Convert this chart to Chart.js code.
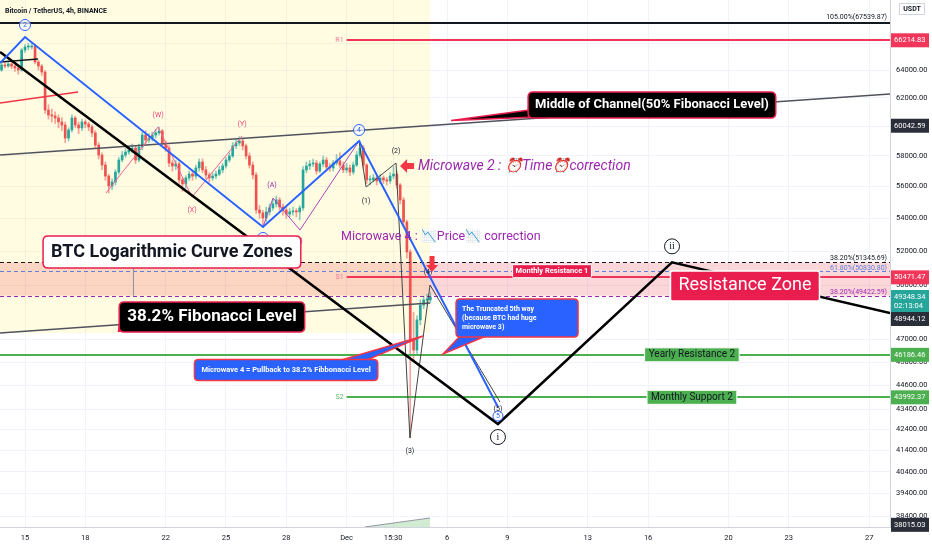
<!DOCTYPE html>
<html>
<head>
<meta charset="utf-8">
<script src="https://cdn.jsdelivr.net/npm/chart.js@4.4.0/dist/chart.umd.min.js"></script>
<style>
  html, body { margin: 0; padding: 0; background: #fff; }
</style>
</head>
<body>
<canvas id="btcChart" width="932" height="550"></canvas>
<script>
// BTC/USDT 4h candles, Nov 13 20:00 -> Dec 5 04:00 (2021)
// x values are days counted from Nov 15 00:00
const firstCandleDay = -7 / 6;
const firstOpen = 64000;
const closes = [
  64370, 64290, 64440, 64290, 64150, 64000, 65480, 65710, 65710, 65780,
  64590, 64290, 63850, 61130, 60790, 60720, 60580, 60300, 60090, 59200,
  59750, 60580, 60090, 59890, 60300, 60160, 59960, 59550, 58730, 58060,
  57400, 56680, 56040, 56300, 56940, 57730, 58060, 58260, 58400, 58530,
  57730, 58600, 59410, 59070, 59200, 59410, 59550, 59680, 58870, 58530,
  57530, 57340, 57470, 56430, 56170, 56560, 56810, 56680, 57210, 57600,
  57080, 56750, 56560, 56680, 56810, 57080, 57340, 57730, 58000, 58670,
  58870, 59000, 58670, 58000, 57400, 56750, 54520, 54340, 54030, 54400,
  54650, 54900, 55150, 54710, 54520, 54270, 54400, 54460, 54400, 54650,
  57080, 57340, 57470, 57530, 57010, 57470, 57730, 57270, 57210, 57530,
  57670, 57400, 57080, 57210, 56940, 57400, 58060, 58530, 57400, 56430,
  56430, 56560, 56360, 56560, 56430, 56360, 56680, 56810, 56100, 55150,
  53780, 51960, 46980, 46440, 48070, 48900, 49180, 49180, 49350
];
const highs = [
  64500, 64560, 64600, 64620, 64400, 64300, 65600, 65900, 66000, 65950,
  65900, 64700, 64400, 63950, 61500, 61200, 61000, 60800, 60600, 60300,
  59900, 60800, 60700, 60300, 60500, 60450, 60300, 60100, 59700, 58900,
  58200, 57600, 56800, 56500, 57100, 57900, 58300, 58500, 58600, 58800,
  58700, 58800, 59600, 59700, 59500, 59600, 59800, 59950, 59800, 59000,
  58700, 57700, 57700, 57600, 56600, 56700, 57000, 57000, 57400, 57800,
  57800, 57300, 56900, 56900, 57000, 57300, 57500, 57900, 58200, 58900,
  59100, 59300, 59200, 58800, 58200, 57600, 56900, 54800, 54500, 54700,
  54900, 55200, 55400, 55300, 54900, 54700, 54600, 54700, 54600, 54800,
  57300, 57600, 57700, 57800, 57700, 57600, 58000, 57900, 57500, 57700,
  58100, 58200, 57600, 57500, 57400, 57600, 58300, 59000, 58700, 57500,
  56700, 56800, 56700, 56800, 56700, 56600, 56900, 57300, 57000, 56200,
  55300, 53900, 52100, 48500, 48300, 49200, 49400, 49500, 49600
];
const lows = [
  63900, 64150, 64200, 64100, 63900, 63700, 63900, 65300, 65500, 65550,
  64450, 64000, 63600, 60900, 60500, 60300, 60200, 59900, 59700, 58900,
  59000, 59600, 59900, 59500, 59700, 59900, 59700, 59300, 58500, 57800,
  57100, 56400, 55600, 55800, 56100, 56800, 57600, 57900, 58100, 58200,
  57500, 57600, 58400, 58800, 58900, 59000, 59200, 59400, 58700, 58300,
  57300, 57000, 57100, 56200, 55700, 55900, 56400, 56400, 56500, 57000,
  56900, 56500, 56300, 56400, 56500, 56700, 56900, 57200, 57600, 57900,
  58500, 58700, 58400, 57800, 57200, 56500, 54300, 54000, 53500, 53800,
  54200, 54500, 54700, 54500, 54200, 54000, 54100, 54200, 54100, 53900,
  54500, 56900, 57100, 57300, 56800, 56900, 57300, 57100, 57000, 57000,
  57400, 57200, 56900, 56900, 56700, 56800, 57300, 57900, 57200, 56200,
  56100, 56300, 56100, 56200, 56200, 56100, 56200, 56500, 55900, 54900,
  53500, 51600, 42000, 45900, 46200, 47800, 48700, 48900, 49000
];
const opens = closes.map((c, i) => (i === 0 ? firstOpen : closes[i - 1]));
const candleDays = closes.map((c, i) => firstCandleDay + i / 6);

// axis ticks
const xTickDays = [0, 3, 7, 10, 13, 16, 18.31, 21, 24, 28, 31, 35, 38, 42];
const xTickLabels = ['15', '18', '22', '25', '28', 'Dec', '15:30', '6', '9', '13', '16', '20', '23', '27'];
const yTickValues = [66000, 64000, 62000, 60000, 58000, 56000, 54000, 52000, 50000,
  47000, 45800, 44600, 43400, 42400, 41400, 40400, 39400, 38400];

// levels (prices)
const fib105 = 67539.87;
const pivotR1 = 66214.83;
const fibUpper382 = 51345.69;
const fib618 = 50830.80;
const pivotS1 = 50471.47;
const fibLower382 = 49422.59;
const yearlyR2 = 46186.46;
const pivotS2 = 43992.37;
const lastPrice = 49348.34;
const pivotStartDay = 16;

// drawings, [day, price]
const impulseWave = [[-1.24, 64515], [0, 66465], [11.84, 53467], [16.62, 59001], [23.53, 43506]];
const wxyWave = [[4.03, 55590], [6.62, 59956], [8.31, 55336], [10.80, 59341]];
const abWave = [[11.84, 53467], [12.34, 55273], [13.68, 53283], [16.62, 59001]];
const microWave = [[16.62, 59001], [16.97, 55974], [18.46, 57534], [19.15, 41988], [20.15, 50031], [23.63, 43756]];
const forecastPath = [[-1.24, 65333], [23.53, 42667], [32.19, 51346], [43.04, 48450]];
const channelUpper = [[-1.24, 58064], [43.04, 62264]];
const channelLower = [[-1.24, 47357], [20.15, 49009]];
const shortBlack = [[-1.24, 64589], [0.65, 64812]];
const shortRed = [[-1.24, 61626], [2.64, 62408]];
const volumeWedge = [[16.9, 37921], [20.15, 38314], [20.15, 37921]];
const highlightEnd = 20.15;
const highlightLow = 47357;

const chartFont = "Roboto, 'Noto Sans', sans-serif";

const wickData = candleDays.map((d, i) => ({ x: d, y: [lows[i], highs[i]] }));
const bodyData = candleDays.map((d, i) => ({ x: d, y: [opens[i], closes[i]] }));
const upColor = '#26a69a', downColor = '#ef5350';
const isUp = i => closes[i] >= opens[i];

function rrect(ctx, x, y, w, h, r) {
  ctx.beginPath();
  ctx.moveTo(x + r, y);
  ctx.lineTo(x + w - r, y);
  ctx.quadraticCurveTo(x + w, y, x + w, y + r);
  ctx.lineTo(x + w, y + h - r);
  ctx.quadraticCurveTo(x + w, y + h, x + w - r, y + h);
  ctx.lineTo(x + r, y + h);
  ctx.quadraticCurveTo(x, y + h, x, y + h - r);
  ctx.lineTo(x, y + r);
  ctx.quadraticCurveTo(x, y, x + r, y);
  ctx.closePath();
}

const drawings = {
  id: 'drawings',
  beforeDatasetsDraw(chart) {
    const { ctx, chartArea: a, scales: { x, y } } = chart;
    ctx.save();
    ctx.beginPath();
    ctx.rect(a.left, a.top, a.right - a.left, a.bottom - a.top);
    ctx.clip();
    // highlighted range
    ctx.fillStyle = 'rgba(255, 235, 59, 0.15)';
    ctx.fillRect(a.left, a.top, x.getPixelForValue(highlightEnd) - a.left, y.getPixelForValue(highlightLow) - a.top);
    // logarithmic curve zone
    const zt = y.getPixelForValue(fibUpper382), zb = y.getPixelForValue(fibLower382);
    ctx.fillStyle = 'rgba(242, 54, 69, 0.2)';
    ctx.fillRect(a.left, zt, a.right - a.left, zb - zt);
    // small volume wedge at the bottom
    ctx.beginPath();
    volumeWedge.forEach(([d, p], i) => (i ? ctx.lineTo(x.getPixelForValue(d), y.getPixelForValue(p)) : ctx.moveTo(x.getPixelForValue(d), y.getPixelForValue(p))));
    ctx.closePath();
    ctx.fillStyle = 'rgba(76, 175, 80, 0.25)';
    ctx.fill();
    ctx.beginPath();
    ctx.moveTo(x.getPixelForValue(volumeWedge[0][0]), y.getPixelForValue(volumeWedge[0][1]));
    ctx.lineTo(x.getPixelForValue(volumeWedge[1][0]), y.getPixelForValue(volumeWedge[1][1]));
    ctx.strokeStyle = '#9598a1';
    ctx.lineWidth = 1;
    ctx.stroke();
    ctx.restore();
  },
  afterDatasetsDraw(chart) {
    const { ctx, chartArea: a, scales: { x, y } } = chart;
    const X = d => x.getPixelForValue(d);
    const Y = p => y.getPixelForValue(p);
    ctx.save();
    ctx.beginPath();
    ctx.rect(a.left, a.top, a.right - a.left, a.bottom - a.top);
    ctx.clip();

    function path(pts, color, width, dash) {
      ctx.beginPath();
      pts.forEach(([d, p], i) => (i ? ctx.lineTo(X(d), Y(p)) : ctx.moveTo(X(d), Y(p))));
      ctx.strokeStyle = color;
      ctx.lineWidth = width;
      ctx.setLineDash(dash || []);
      ctx.stroke();
      ctx.setLineDash([]);
    }
    function hline(price, fromDay, color, width, dash) {
      const yy = Math.round(Y(price)) + (width % 2 ? 0.5 : 0);
      ctx.beginPath();
      ctx.moveTo(fromDay == null ? a.left : X(fromDay), yy);
      ctx.lineTo(a.right, yy);
      ctx.strokeStyle = color;
      ctx.lineWidth = width;
      ctx.setLineDash(dash || []);
      ctx.stroke();
      ctx.setLineDash([]);
    }
    function text(str, d, p, color, font, align, dx, dy) {
      ctx.font = font;
      ctx.fillStyle = color;
      ctx.textAlign = align || 'center';
      ctx.textBaseline = 'middle';
      ctx.fillText(str, X(d) + (dx || 0), Y(p) + (dy || 0));
    }
    function circled(str, d, p, color, r, font, dy) {
      const cx = X(d), cy = Y(p) + (dy || 0);
      ctx.beginPath();
      ctx.arc(cx, cy, r, 0, Math.PI * 2);
      ctx.fillStyle = 'rgba(255,255,255,0.7)';
      ctx.fill();
      ctx.strokeStyle = color;
      ctx.lineWidth = 1;
      ctx.stroke();
      ctx.font = font;
      ctx.fillStyle = color;
      ctx.textAlign = 'center';
      ctx.textBaseline = 'middle';
      ctx.fillText(str, cx, cy + 0.5);
    }
    function callout(lines, at, o) {
      ctx.font = o.font;
      const w = o.width || Math.max(...lines.map(l => ctx.measureText(l).width)) + o.padX * 2;
      const h = o.height;
      const bx = X(at[0]) - w / 2, by = Y(at[1]) - h / 2;
      if (o.tip) {
        const tx = X(o.tip[0]), ty = Y(o.tip[1]);
        const b = o.base(bx, by, w, h);
        ctx.beginPath();
        ctx.moveTo(b[0][0], b[0][1]);
        ctx.lineTo(tx, ty);
        ctx.lineTo(b[1][0], b[1][1]);
        ctx.closePath();
        ctx.fillStyle = o.fill;
        ctx.fill();
        ctx.strokeStyle = o.stroke;
        ctx.lineWidth = o.lw;
        ctx.stroke();
      }
      rrect(ctx, bx, by, w, h, o.radius);
      ctx.fillStyle = o.fill;
      ctx.fill();
      if (o.stroke) {
        ctx.strokeStyle = o.stroke;
        ctx.lineWidth = o.lw;
        ctx.stroke();
      }
      ctx.fillStyle = o.color;
      ctx.font = o.font;
      ctx.textBaseline = 'middle';
      ctx.textAlign = o.align === 'left' ? 'left' : 'center';
      const lh = o.lineHeight || 0;
      lines.forEach((l, i) => {
        const ty = by + h / 2 + (i - (lines.length - 1) / 2) * lh;
        ctx.fillText(l, o.align === 'left' ? bx + o.padX : bx + w / 2, ty);
      });
    }

    // zone bounds and fib levels
    hline(fibUpper382, null, '#131722', 1, [4, 3]);
    hline(fib618, null, '#5b7fdb', 1, [4, 3]);
    hline(fibLower382, null, '#9c27b0', 1, [4, 3]);
    ctx.beginPath();
    ctx.moveTo(X(5.37) + 0.5, Y(fibUpper382));
    ctx.lineTo(X(5.37) + 0.5, Y(fibLower382));
    ctx.strokeStyle = '#8a8d96';
    ctx.lineWidth = 1;
    ctx.stroke();

    // horizontal levels
    hline(fib105, null, '#131722', 2);
    hline(pivotR1, pivotStartDay, '#f2365a', 2);
    hline(pivotS1, pivotStartDay, '#f2365a', 2);
    hline(yearlyR2, null, '#4caf50', 2);
    hline(pivotS2, pivotStartDay, '#4caf50', 2);
    text('R1', pivotStartDay, pivotR1, '#f27a92', '7px ' + chartFont, 'right', -3);
    text('S1', pivotStartDay, pivotS1, '#f27a92', '7px ' + chartFont, 'right', -3);
    text('S2', pivotStartDay, pivotS2, '#66bb6a', '7px ' + chartFont, 'right', -3);

    // channel and trend lines
    path(channelUpper, '#50535e', 1.5);
    path(channelLower, '#50535e', 1.5);
    path(shortBlack, '#131722', 1.5);
    path(shortRed, '#f23645', 1.5);

    // wave counts
    path(wxyWave, '#f06292', 1);
    path(abWave, '#ab47bc', 1);
    path(microWave, '#444', 1);
    path(forecastPath, '#000', 2.5);
    path(impulseWave, '#2962ff', 2);

    // fib labels on the right
    ctx.textBaseline = 'alphabetic';
    ctx.textAlign = 'right';
    ctx.font = '7px ' + chartFont;
    ctx.fillStyle = '#131722';
    ctx.fillText('105.00%(' + fib105.toFixed(2) + ')', a.right - 3, Y(fib105) - 4);
    ctx.fillText('38.20%(' + fibUpper382.toFixed(2) + ')', a.right - 3, Y(fibUpper382) - 2);
    ctx.fillStyle = '#5b7fdb';
    ctx.fillText('61.80%(' + fib618.toFixed(2) + ')', a.right - 3, Y(fib618) - 1);
    ctx.fillStyle = '#9c27b0';
    ctx.fillText('38.20%(' + fibLower382.toFixed(2) + ')', a.right - 3, Y(fibLower382) - 2);

    // wave labels
    circled('2', 0, 66465, '#2962ff', 5.5, '7px ' + chartFont, -12);
    circled('3', 11.84, 53467, '#2962ff', 5.5, '7px ' + chartFont, 11);
    circled('4', 16.62, 59001, '#2962ff', 5.5, '7px ' + chartFont, -11);
    circled('5', 23.53, 43506, '#2962ff', 5, '7px ' + chartFont, 9);
    text('(5)', 23.53, 43506, '#131722', '7px ' + chartFont, 'center', 0, 2);
    circled('i', 23.53, 42667, '#131722', 7.5, '10px serif', 13);
    circled('ii', 32.19, 51346, '#131722', 7.5, '10px serif', -16);
    text('(W)', 6.62, 59956, '#f0457a', '7px ' + chartFont, 'center', 0, -12);
    text('(X)', 8.31, 55336, '#f0457a', '7px ' + chartFont, 'center', 0, 13);
    text('(Y)', 10.80, 59341, '#f0457a', '7px ' + chartFont, 'center', 0, -12);
    text('(A)', 12.34, 55273, '#9c27b0', '7px ' + chartFont, 'center', -1, -13);
    text('(B)', 13.68, 53283, '#9c27b0', '7px ' + chartFont, 'center', -2, 11);
    text('(1)', 16.97, 55974, '#131722', '7px ' + chartFont, 'center', 0, 14);
    text('(2)', 18.46, 57534, '#131722', '7px ' + chartFont, 'center', 0, -12);
    text('(3)', 19.15, 41988, '#131722', '7px ' + chartFont, 'center', 0, 13);
    text('(4)', 20.15, 50031, '#131722', '7px ' + chartFont, 'center', -2, -13);

    // arrows
    const ax = X(18.66), ay = Y(57336);
    ctx.fillStyle = '#f23645';
    ctx.beginPath();
    ctx.moveTo(ax, ay);
    ctx.lineTo(ax + 7, ay - 7);
    ctx.lineTo(ax + 7, ay - 3);
    ctx.lineTo(ax + 14, ay - 3);
    ctx.lineTo(ax + 14, ay + 3);
    ctx.lineTo(ax + 7, ay + 3);
    ctx.lineTo(ax + 7, ay + 7);
    ctx.closePath();
    ctx.fill();
    const dx0 = X(20.25), dy0 = Y(50781);
    ctx.beginPath();
    ctx.moveTo(dx0, dy0);
    ctx.lineTo(dx0 - 6, dy0 - 7);
    ctx.lineTo(dx0 - 2.5, dy0 - 7);
    ctx.lineTo(dx0 - 2.5, dy0 - 16);
    ctx.lineTo(dx0 + 2.5, dy0 - 16);
    ctx.lineTo(dx0 + 2.5, dy0 - 7);
    ctx.lineTo(dx0 + 6, dy0 - 7);
    ctx.closePath();
    ctx.fill();

    // purple notes
    text('Microwave 2 : \u23F0Time\u23F0correction', 19.55, 57336, '#9c27b0', 'italic 14px ' + chartFont, 'left');
    text('Microwave 4 : \uD83D\uDCC9Price\uD83D\uDCC9 correction', 15.72, 52858, '#9c27b0', '12.5px ' + chartFont, 'left');

    // callouts
    callout(['BTC Logarithmic Curve Zones'], [7.31, 51958], {
      font: 'bold 18px ' + chartFont, padX: 8, height: 32, radius: 5,
      fill: '#ffffff', stroke: '#e91e4f', lw: 1.5, color: '#131722'
    });
    callout(['38.2% Fibonacci Level'], [9.30, 48231], {
      font: 'bold 17px ' + chartFont, padX: 8, height: 30, radius: 5,
      fill: '#000000', stroke: '#e91e4f', lw: 1.5, color: '#ffffff',
      tip: [4.65, 47450], base: (bx, by, w, h) => [[bx + 1, by + h - 12], [bx + 12, by + h - 1]]
    });
    callout(['Middle of Channel(50% Fibonacci Level)'], [31.19, 61484], {
      font: 'bold 13px ' + chartFont, padX: 7, height: 26, radius: 5,
      fill: '#000000', stroke: '#e91e4f', lw: 1.5, color: '#ffffff',
      tip: [21.2, 60400], base: (bx, by, w, h) => [[bx + 1, by + h - 8], [bx + 8, by + h - 1]]
    });
    callout(['Monthly Resistance 1'], [26.22, 50830.8], {
      font: 'bold 7.5px ' + chartFont, padX: 3, height: 13, radius: 1,
      fill: '#e91e4f', stroke: '#ffffff', lw: 1, color: '#ffffff'
    });
    callout(['Resistance Zone'], [35.82, 49975], {
      font: '18px ' + chartFont, padX: 8, height: 30, radius: 2,
      fill: '#e91e4f', stroke: '#ffffff', lw: 1.5, color: '#ffffff'
    });
    callout(['Yearly Resistance 2'], [33.18, yearlyR2], {
      font: '10px ' + chartFont, padX: 4, height: 14, radius: 1,
      fill: '#4caf50', stroke: '#ffffff', lw: 1, color: '#131722'
    });
    callout(['Monthly Support 2'], [33.18, pivotS2], {
      font: '10px ' + chartFont, padX: 4, height: 14, radius: 1,
      fill: '#4caf50', stroke: '#ffffff', lw: 1, color: '#131722'
    });
    callout(['Microwave 4 = Pullback to 38.2% Fibbonacci Level'], [12.99, 45389], {
      font: 'bold 7.5px ' + chartFont, padX: 7, height: 21, radius: 4, align: 'left',
      fill: '#2962ff', stroke: '#f23645', lw: 1.5, color: '#ffffff',
      tip: [19.80, 47194], base: (bx, by, w, h) => [[bx + w - 38, by + 1], [bx + w - 12, by + 1]]
    });
    callout(['The Truncated 5th way', '(because BTC had huge', 'microwave 3)'], [24.48, 48176], {
      font: 'bold 7px ' + chartFont, padX: 6, width: 122, height: 38, radius: 4, align: 'left', lineHeight: 9,
      fill: '#2962ff', stroke: '#f23645', lw: 1.5, color: '#ffffff',
      tip: [20.80, 46231], base: (bx, by, w, h) => [[bx + 4, by + h - 1], [bx + 30, by + h - 1]]
    });
    ctx.restore();
  },
  afterDraw(chart) {
    const { ctx, chartArea: a, scales: { y }, width } = chart;
    ctx.save();
    // title
    ctx.font = 'bold 7px ' + chartFont;
    ctx.fillStyle = '#131722';
    ctx.textAlign = 'left';
    ctx.textBaseline = 'middle';
    ctx.fillText('Bitcoin / TetherUS, 4h, BINANCE', 5, 11);
    // currency box
    ctx.fillStyle = '#fff';
    ctx.fillRect(899, 3, 26, 12);
    ctx.strokeStyle = '#d1d4dc';
    ctx.lineWidth = 1;
    ctx.strokeRect(899.5, 3.5, 25, 11);
    ctx.fillStyle = '#131722';
    ctx.textAlign = 'center';
    ctx.fillText('USDT', 912, 9.5);

    // price tags on the axis
    const tags = [
      { p: pivotR1, bg: '#f2365a', fg: '#fff' },
      { p: 60042.59, bg: '#2a2e39', fg: '#fff' },
      { p: pivotS1, bg: '#f2365a', fg: '#fff' },
      { p: lastPrice, bg: '#26a69a', fg: '#fff', sub: '02:13:04' },
      { p: 48944.12, bg: '#2a2e39', fg: '#fff' },
      { p: yearlyR2, bg: '#4caf50', fg: '#fff' },
      { p: pivotS2, bg: '#4caf50', fg: '#fff' },
      { p: 38015.03, bg: '#2a2e39', fg: '#fff' }
    ];
    let prevBottom = -Infinity;
    ctx.font = '7.5px ' + chartFont;
    tags.forEach(t => {
      const h = t.sub ? 22 : 14;
      let top = y.getPixelForValue(t.p) - 7;
      if (top < prevBottom) top = prevBottom;
      prevBottom = top + h;
      ctx.fillStyle = t.bg;
      ctx.fillRect(a.right + 1, top, width - a.right - 4, h);
      ctx.fillStyle = t.fg;
      ctx.textAlign = 'left';
      ctx.fillText(t.p.toFixed(2), a.right + 4, top + 7);
      if (t.sub) ctx.fillText(t.sub, a.right + 4, top + 16);
    });
    ctx.restore();
  }
};

const chart = new Chart(document.getElementById('btcChart'), {
  type: 'bar',
  data: {
    datasets: [
      {
        label: 'wick',
        data: wickData,
        backgroundColor: ctx => (isUp(ctx.dataIndex) ? 'rgba(38,166,154,0.55)' : 'rgba(239,83,80,0.55)'),
        barThickness: 1,
        grouped: false
      },
      {
        label: 'body',
        data: bodyData,
        backgroundColor: ctx => (isUp(ctx.dataIndex) ? upColor : downColor),
        barThickness: 2,
        minBarLength: 1,
        grouped: false
      }
    ]
  },
  options: {
    responsive: false,
    animation: false,
    devicePixelRatio: 1,
    layout: { padding: 0 },
    plugins: { legend: { display: false }, tooltip: { enabled: false } },
    scales: {
      x: {
        type: 'linear',
        min: -1.2438,
        max: 43.035,
        offset: false,
        afterBuildTicks: s => { s.ticks = xTickDays.map(v => ({ value: v })); },
        afterFit: s => { s.height = 23; s.paddingLeft = 0; s.paddingRight = 0; },
        ticks: {
          autoSkip: false,
          maxRotation: 0,
          padding: 7,
          color: '#131722',
          font: { size: 7.5, family: chartFont },
          callback: (v, i) => xTickLabels[i]
        },
        grid: { color: '#f0f3fa', offset: false, drawTicks: false },
        border: { color: '#d1d4dc' }
      },
      y: {
        type: 'logarithmic',
        position: 'right',
        min: 37921,
        max: 69342,
        afterBuildTicks: s => { s.ticks = yTickValues.map(v => ({ value: v })); },
        afterFit: s => { s.width = 42; s.paddingTop = 0; s.paddingBottom = 0; },
        ticks: {
          autoSkip: false,
          padding: 6,
          color: '#131722',
          font: { size: 7.5, family: chartFont },
          callback: v => Number(v).toFixed(2)
        },
        grid: { color: '#f0f3fa', drawTicks: false },
        border: { color: '#d1d4dc' }
      }
    }
  },
  plugins: [drawings]
});
</script>
</body>
</html>
